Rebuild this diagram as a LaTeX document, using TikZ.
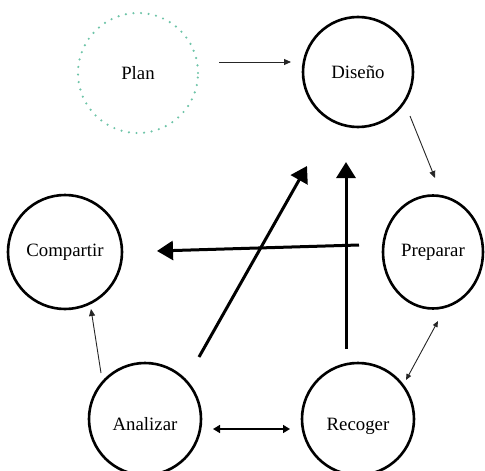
\documentclass[tikz,border=0pt]{standalone}
\usepackage{fontspec}
\setmainfont{Liberation Serif}
\usetikzlibrary{arrows.meta,shapes.geometric}
\begin{document}
\begin{tikzpicture}[x=1pt,y=-1pt,
  stage/.style={circle,draw=black,text=black,line width=2.6pt,inner sep=0pt,font=\fontsize{18.8}{20}\selectfont},
  lowtext/.style={text height=23pt,text depth=0pt},
  thinarrow/.style={line width=0.9pt,draw=black!85,-{Triangle[length=7pt,width=6pt]}},
  bigarrow/.style={line width=3pt,-{Triangle[length=16pt,width=19pt]}},
  medarrow/.style={line width=1.6pt,{Triangle[length=7pt,width=8pt]}-{Triangle[length=7pt,width=8pt]}},
  thindouble/.style={line width=0.9pt,draw=black!85,{Triangle[length=6pt,width=5pt]}-{Triangle[length=6pt,width=5pt]}}]
\useasboundingbox (0,0) rectangle (485,471);
\definecolor{dotteal}{RGB}{110,196,168}
% nodes
\node[circle,minimum size=120pt,inner sep=0pt,draw=dotteal,text=black,line width=2.4pt,line cap=round,
  dash pattern=on 0pt off 7.6pt,font=\fontsize{18.8}{20}\selectfont] (plan) at (138,73) {Plan};
\node[stage,minimum size=110pt] (diseno) at (358,72) {Diseño};
\node[stage,minimum size=114pt] (compartir) at (65,252) {Compartir};
\node[ellipse,draw=black,text=black,line width=2.6pt,inner sep=0pt,minimum width=100pt,minimum height=113pt,
  font=\fontsize{18.8}{20}\selectfont] (preparar) at (433,252) {Preparar};
\node[stage,lowtext,minimum size=112pt] (analizar) at (145,419) {Analizar};
\node[stage,lowtext,minimum size=112pt] (recoger) at (358,419) {Recoger};
% connector end points
\coordinate (p1) at (219,62);
\coordinate (p2) at (291,62);
\coordinate (d1) at (410,116);
\coordinate (d2) at (435,178);
\coordinate (r1) at (359,245);
\coordinate (r2) at (157,251);
\coordinate (a1) at (199,357);
\coordinate (a2) at (307,166);
\coordinate (g1) at (346,349);
\coordinate (g2) at (346,162);
\coordinate (c1) at (101,373);
\coordinate (c2) at (91,309);
\coordinate (h1) at (213,429);
\coordinate (h2) at (290,429);
\coordinate (k1) at (406,380);
\coordinate (k2) at (438,321);
% connectors
\draw[thinarrow] (p1) -- (p2);
\draw[thinarrow] (d1) -- (d2);
\draw[bigarrow] (r1) -- (r2);
\draw[bigarrow] (a1) -- (a2);
\draw[bigarrow] (g1) -- (g2);
\draw[thinarrow] (c1) -- (c2);
\draw[medarrow] (h1) -- (h2);
\draw[thindouble] (k1) -- (k2);
\end{tikzpicture}
\end{document}
